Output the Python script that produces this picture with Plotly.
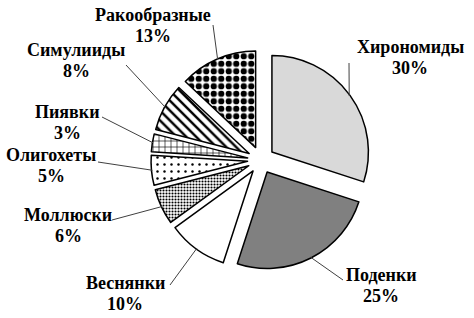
import math
import plotly.graph_objects as go

# ---- data ----
categories = ["Хирономиды", "Поденки", "Веснянки", "Моллюски",
              "Олигохеты", "Пиявки", "Симулииды", "Ракообразные"]
shares = [30, 25, 10, 6, 5, 3, 8, 13]

# ---- styles ----
fill_colors = ["#d9d9d9", "#808080", "#ffffff", "#ffffff",
               "#ffffff", "#ffffff", "#ffffff", "#ffffff"]
pattern_shapes = ["", "", "", ".", ".", "+", "\\", "."]
pattern_sizes = [8, 8, 8, 3, 7, 6, 7, 7.5]
pattern_solid = [0.3, 0.3, 0.3, 0.4, 0.1, 0.2, 0.35, 0.55]

W, H = 474, 318
cx, cy, reff = 261, 160, 110          # pie centre / outer extent in pixels
pull = 0.14

# label name centres (pixels); percent line sits LINE px below
name_pos = [(410, 47), (381, 275), (125, 283), (68, 215),
            (51, 155), (67, 112), (76, 50), (153, 15)]
LINE = 20.5
leader_start = [(349, 63), (343, 280), (170, 285), (112, 220),
                (98, 162), (102, 117), (126, 65), (213, 25)]

dom_x = [(cx - reff) / W, (cx + reff) / W]
dom_y = [1 - (cy + reff) / H, 1 - (cy - reff) / H]

fig = go.Figure(go.Pie(
    labels=categories, values=shares, sort=False, direction="clockwise",
    rotation=0, pull=[pull] * len(shares), textinfo="none", hoverinfo="label+percent",
    domain=dict(x=dom_x, y=dom_y),
    marker=dict(colors=fill_colors, line=dict(color="black", width=1.5),
                pattern=dict(shape=pattern_shapes, size=pattern_sizes,
                             solidity=pattern_solid, fgcolor="black", fgopacity=1,
                             bgcolor="white", fillmode="replace")),
    showlegend=False,
))

font = dict(family="Times New Roman, Liberation Serif, serif", size=18, color="black")
total = sum(shares)
r = reff / (1 + pull)
cum = 0
annotations, shapes = [], []
for i, (cat, v) in enumerate(zip(categories, shares)):
    mid = (cum + v / 2) / total * 2 * math.pi
    cum += v
    px = cx + (r * pull + r * 0.99) * math.sin(mid)
    py = cy - (r * pull + r * 0.99) * math.cos(mid)
    lx, ly = name_pos[i]
    pct = round(v / total * 100)
    for txt, yy in ((cat, ly), (f"{pct}%", ly + LINE)):
        annotations.append(dict(x=lx / W, y=1 - yy / H, xref="paper", yref="paper",
                                text=f"<b>{txt}</b>", showarrow=False, borderpad=0,
                                xanchor="center", yanchor="middle", font=font))
    sx, sy = leader_start[i]
    shapes.append(dict(type="line", xref="paper", yref="paper",
                       x0=sx / W, y0=1 - sy / H, x1=px / W, y1=1 - py / H,
                       line=dict(color="#404040", width=1)))

fig.update_layout(width=W, height=H, margin=dict(l=0, r=0, t=0, b=0),
                  paper_bgcolor="white", plot_bgcolor="white",
                  annotations=annotations, shapes=shapes)
fig.write_html("out.html", config={"displayModeBar": False},
               post_script="document.body.style.margin='0px';document.body.style.overflow='hidden';")
